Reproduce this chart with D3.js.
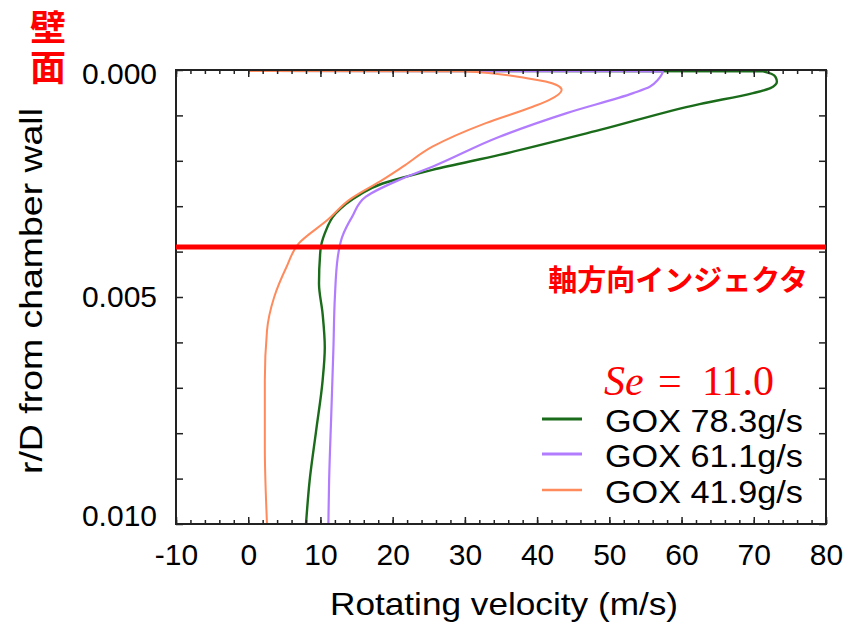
<!DOCTYPE html>
<html>
<head>
<meta charset="utf-8">
<script src="https://cdn.jsdelivr.net/npm/d3@7"></script>
<style>
  body { margin: 0; background: #fff; }
  svg { display: block; }
  .tick text { font-family: "Liberation Sans", Arial, sans-serif; font-size: 30px; fill: #000; }
</style>
</head>
<body>
<svg id="chart" width="862" height="630"></svg>
<script>
// r/D from chamber wall vs rotating velocity (m/s)
const gox783 = [[0.00002,0],[0.00003,71.3],[0.00015,73.0],[0.00026,73.2],[0.0004,72.3],[0.00051,69.9],
  [0.00075,62.5],[0.00132,48.7],[0.00187,34.8],[0.0022,25.5],[0.00235,21.9],[0.0025,18.6],
  [0.00275,15.4],[0.00316,12.1],[0.0036,10.6],[0.00397,10.0],[0.0047,9.8],[0.00537,10.3],
  [0.00611,10.6],[0.00684,10.3],[0.00795,9.4],[0.00905,8.5],[0.01,8.0]]
const gox611 = [[0.00002,0],[0.00003,57.4],[0.00022,56.7],[0.00037,55.6],[0.00051,53.3],[0.00095,44.1],
  [0.00147,34.8],[0.00213,25.5],[0.00242,20.9],[0.00279,16.3],[0.00323,14.4],[0.00368,13.0],
  [0.00412,12.4],[0.005,12.0],[0.00611,11.8],[0.00758,11.5],[0.00905,11.2],[0.01,11.1]]
const gox419 = [[0.00002,0],[0.00003,29.7],[0.00018,38.6],[0.00033,42.7],[0.00044,43.4],[0.00066,41.7],
  [0.00081,39.4],[0.00117,32.9],[0.00169,25.5],[0.00213,21.4],[0.00242,18.6],[0.00286,14.0],
  [0.0033,11.0],[0.00382,7.0],[0.00434,5.3],[0.005,3.6],[0.00574,2.6],[0.00684,2.3],
  [0.00832,2.3],[0.01,2.6]]

const seriesNames = ["GOX 78.3g/s", "GOX 61.1g/s", "GOX 41.9g/s"]
const seriesColors = ["#1a6b1a", "#b27cff", "#ff8a5c"]
const injectorRD = 0.0039

const xTicks = d3.range(-10, 81, 10)
const xMinor = d3.range(-10, 81, 2)
const yTicks = [0, 0.005, 0.01]
const yMinor = d3.range(0, 0.01001, 0.001)

const svg = d3.select("#chart")
const pLeft = 176, pRight = 826, pTop = 70, pBottom = 524

let x = d3.scaleLinear().domain([-10, 80]).range([pLeft, pRight])
let y = d3.scaleLinear().domain([0, 0.01]).range([pTop, pBottom])

svg.append("rect").attr("width", 862).attr("height", 630).attr("fill", "#fff")

// curves
let line = d3.line().x(d => x(d[1])).y(d => y(d[0])).curve(d3.curveMonotoneY)
const data = [gox783, gox611, gox419]
const widths = [2.4, 2.2, 2]
data.forEach((s, i) => {
  svg.append("path").datum(s)
    .attr("d", line)
    .attr("fill", "none")
    .attr("stroke", seriesColors[i])
    .attr("stroke-width", widths[i])
    .attr("stroke-linejoin", "round")
})

// minor / major ticks on all four sides
function addAxis(axis, tr) {
  let g = svg.append("g").attr("transform", tr).call(axis)
  g.select(".domain").remove()
  g.selectAll(".tick line").attr("stroke", "#222").attr("stroke-width", 1.5)
  return g
}
addAxis(d3.axisBottom(x).tickValues(xMinor).tickSizeInner(-4).tickSizeOuter(0).tickFormat(""), `translate(0,${pBottom})`)
addAxis(d3.axisTop(x).tickValues(xMinor).tickSizeInner(-4).tickSizeOuter(0).tickFormat(""), `translate(0,${pTop})`)
addAxis(d3.axisTop(x).tickValues(xTicks).tickSizeInner(-7).tickSizeOuter(0).tickFormat(""), `translate(0,${pTop})`)
let xAxis = addAxis(d3.axisBottom(x).tickValues(xTicks).tickSizeInner(-7).tickSizeOuter(0).tickPadding(19).tickFormat(d => String(d)), `translate(0,${pBottom})`)
xAxis.selectAll(".tick text").attr("y", 19).attr("dy", "0.72em")

addAxis(d3.axisRight(y).tickValues(yMinor).tickSizeInner(-7).tickSizeOuter(0).tickFormat(""), `translate(${pRight},0)`)
addAxis(d3.axisLeft(y).tickValues(yMinor).tickSizeInner(-7).tickSizeOuter(0).tickFormat(""), `translate(${pLeft},0)`)
let yAxis = addAxis(d3.axisLeft(y).tickValues(yTicks).tickSizeInner(0).tickSizeOuter(0).tickPadding(19).tickFormat(d3.format(".3f")), `translate(${pLeft},0)`)
yAxis.selectAll(".tick text").attr("x", -19).attr("dy", (d, i) => ["0.45em", "0.33em", "0.05em"][i])

// frame
svg.append("rect")
  .attr("x", pLeft).attr("y", pTop)
  .attr("width", pRight - pLeft).attr("height", pBottom - pTop)
  .attr("fill", "none").attr("stroke", "#222").attr("stroke-width", 2)

// axial injector line
svg.append("line")
  .attr("x1", x(-10)).attr("x2", x(80))
  .attr("y1", y(injectorRD)).attr("y2", y(injectorRD))
  .attr("stroke", "#ff0000").attr("stroke-width", 5)

svg.append("text")
  .attr("x", 808).attr("y", 291)
  .attr("text-anchor", "end")
  .style("font-family", "'Noto Sans CJK JP', sans-serif")
  .style("font-weight", "bold").style("font-size", "29px")
  .attr("fill", "#ff0000")
  .text("軸方向インジェクタ")

// wall label, written vertically
svg.append("text").attr("x", 48).attr("y", 9)
  .style("writing-mode", "vertical-rl")
  .style("font-family", "'Noto Sans CJK JP', sans-serif")
  .style("font-weight", "bold").style("font-size", "36px")
  .style("letter-spacing", "4px")
  .attr("fill", "#ff0000").text("壁面")

// Se label
let se = svg.append("text").attr("y", 395)
  .style("font-family", "'Liberation Serif', serif").style("font-size", "42px")
  .attr("fill", "#ff0000")
se.append("tspan").attr("x", 604).style("font-style", "italic").text("Se")
se.append("tspan").attr("x", 658).text("=")
se.append("tspan").attr("x", 702).text("11.0")

// legend
const legendY = [419, 454, 490]
seriesNames.forEach((name, i) => {
  svg.append("line")
    .attr("x1", 542).attr("x2", 582)
    .attr("y1", legendY[i]).attr("y2", legendY[i])
    .attr("stroke", seriesColors[i]).attr("stroke-width", widths[i] + 0.6)
  svg.append("text")
    .attr("transform", `translate(605,${legendY[i] + 13}) scale(1.07,1)`)
    .style("font-family", "'Liberation Sans', Arial, sans-serif").style("font-size", "32px")
    .text(name)
})

// axis titles
svg.append("text")
  .attr("transform", `translate(504,615) scale(1.1,1)`)
  .attr("text-anchor", "middle")
  .style("font-family", "'Liberation Sans', Arial, sans-serif").style("font-size", "32px")
  .text("Rotating velocity (m/s)")

svg.append("text")
  .attr("transform", `translate(42,291) rotate(-90) scale(1.17,1)`)
  .attr("text-anchor", "middle")
  .style("font-family", "'Liberation Sans', Arial, sans-serif").style("font-size", "32px")
  .text("r/D from chamber wall")
</script>
</body>
</html>
